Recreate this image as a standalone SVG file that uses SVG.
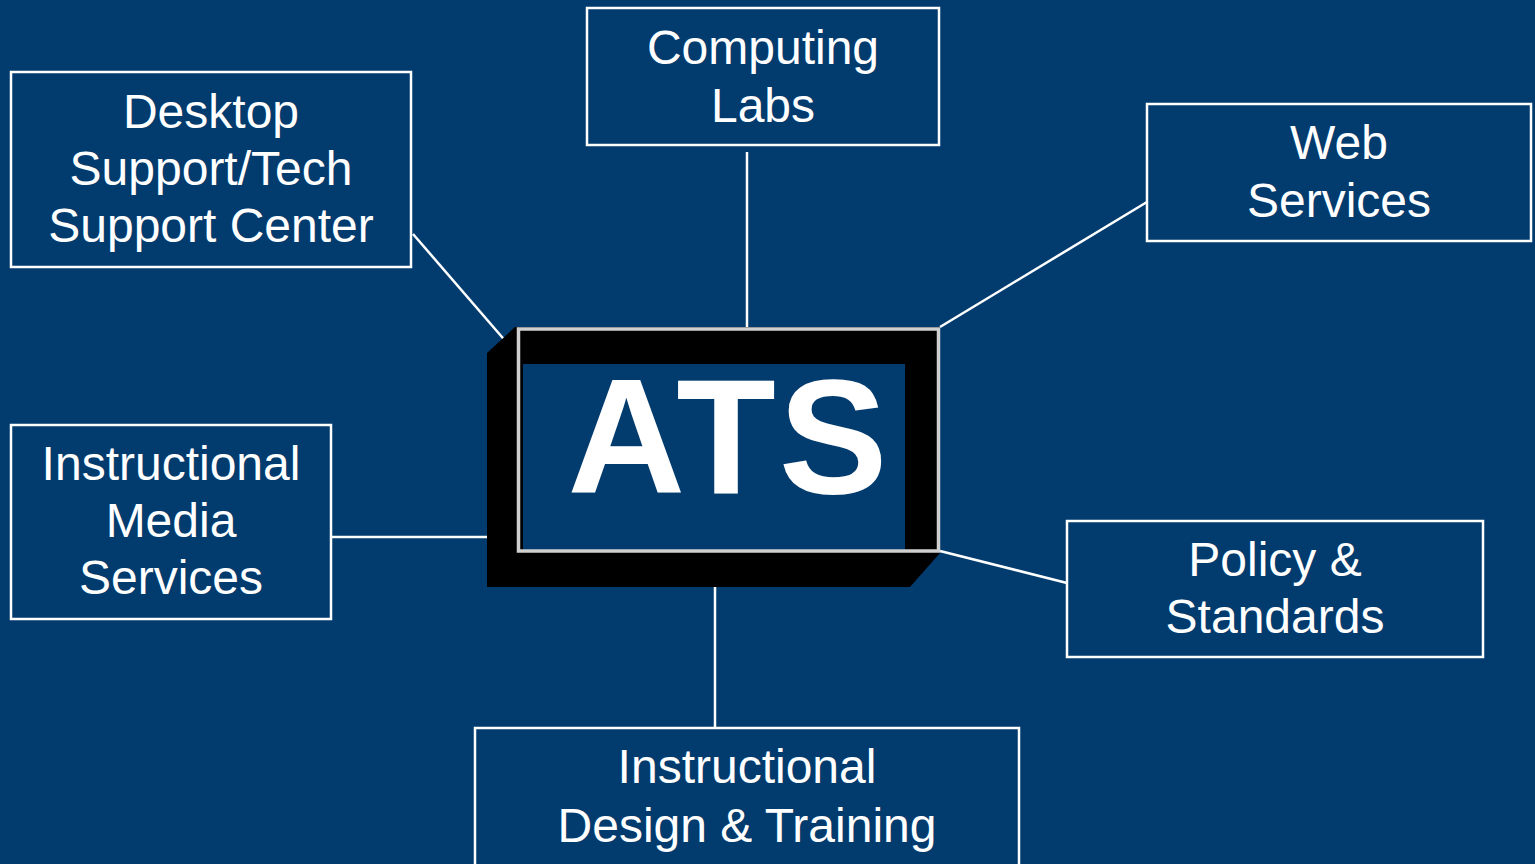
<svg xmlns="http://www.w3.org/2000/svg" width="1535" height="864" viewBox="0 0 1535 864">
<style>
.box{fill:none;stroke:#ffffff;stroke-width:2.5}
.lbl{font-family:"Liberation Sans",Arial,sans-serif;font-size:48px;fill:#ffffff;text-anchor:middle}
.con line{stroke:#ffffff;stroke-width:2.5}
</style>
<rect x="0" y="0" width="1535" height="864" fill="#023B6E"/>
<g id="connectors" class="con">
<line x1="413" y1="234" x2="508" y2="344"/>
<line x1="747" y1="152" x2="747" y2="327"/>
<line x1="1147" y1="202" x2="940" y2="327"/>
<line x1="940" y1="551" x2="1067" y2="583"/>
<line x1="331" y1="537" x2="491" y2="537"/>
<line x1="715" y1="585" x2="715" y2="728"/>
</g>
<g id="ats">
<polygon points="487,353 515,327 940,327 940,553 910,587 487,587" fill="#000000"/>
<rect x="523" y="364" width="382" height="186" fill="#023B6E"/>
<rect x="518.5" y="329" width="420" height="222" fill="none" stroke="#D0D0D0" stroke-width="3.5"/>
<text x="729" y="493" font-family="'Liberation Sans',Arial,sans-serif" font-weight="bold" font-size="163" letter-spacing="3" fill="#ffffff" text-anchor="middle">ATS</text>
</g>
<g id="desktop">
<rect class="box" x="11" y="72" width="400" height="195"/>
<text class="lbl" x="211" y="128">Desktop</text>
<text class="lbl" x="211" y="185">Support/Tech</text>
<text class="lbl" x="211" y="242">Support Center</text>
</g>
<g id="computing">
<rect class="box" x="587" y="8" width="352" height="137"/>
<text class="lbl" x="763" y="64">Computing</text>
<text class="lbl" x="763" y="122">Labs</text>
</g>
<g id="web">
<rect class="box" x="1147" y="104" width="384" height="137"/>
<text class="lbl" x="1339" y="159">Web</text>
<text class="lbl" x="1339" y="217">Services</text>
</g>
<g id="media">
<rect class="box" x="11" y="425" width="320" height="194"/>
<text class="lbl" x="171" y="480">Instructional</text>
<text class="lbl" x="171" y="537">Media</text>
<text class="lbl" x="171" y="594">Services</text>
</g>
<g id="policy">
<rect class="box" x="1067" y="521" width="416" height="136"/>
<text class="lbl" x="1275" y="576">Policy &amp;</text>
<text class="lbl" x="1275" y="633">Standards</text>
</g>
<g id="design">
<rect class="box" x="475" y="728" width="544" height="150"/>
<text class="lbl" x="747" y="783">Instructional</text>
<text class="lbl" x="747" y="842">Design &amp; Training</text>
</g>
</svg>
